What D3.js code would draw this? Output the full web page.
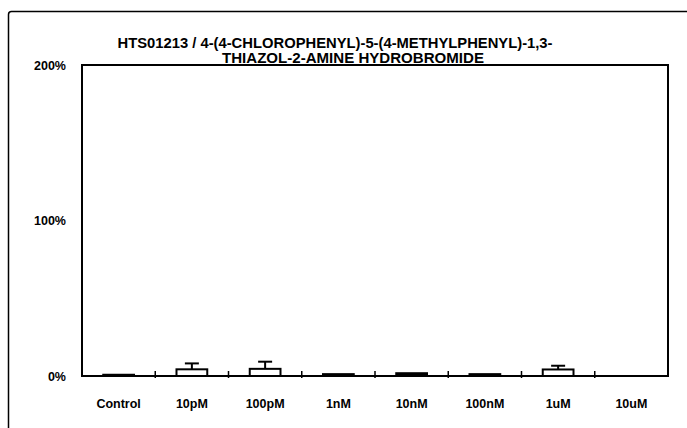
<!DOCTYPE html>
<html><head><meta charset="utf-8">
<script src="https://cdn.jsdelivr.net/npm/d3@7"></script>
<style>body{margin:0;background:#fff}svg{display:block}</style>
</head><body><svg id="c" width="687" height="428"></svg>
<script>
const categories = ["Control","10pM","100pM","1nM","10nM","100nM","1uM","10uM"];
const values = [0.8, 4.3, 4.6, 1.2, 1.8, 1.2, 4.2, 0];
const errors = [0, 3.8, 4.6, 0, 0, 0, 2.4, 0];
const yTicks = [0, 100, 200];
const titleLines = ["HTS01213 / 4-(4-CHLOROPHENYL)-5-(4-METHYLPHENYL)-1,3-", "THIAZOL-2-AMINE HYDROBROMIDE"];

const svg = d3.select("#c");
const font = "'Liberation Sans',Arial,sans-serif";
const m = {l:82, r:668, t:65, b:376};

svg.append("rect").attr("x",8.5).attr("y",11.5).attr("width",700).attr("height",440)
  .attr("rx",3).attr("fill","none").attr("stroke","#000").attr("stroke-width",1.5);

const x = d3.scaleBand().domain(categories).range([m.l,m.r]).paddingInner(0).paddingOuter(0);
const y = d3.scaleLinear().domain([0,200]).range([m.b,m.t]);

// plot frame
svg.append("rect").attr("x",m.l).attr("y",m.t).attr("width",m.r-m.l).attr("height",m.b-m.t)
  .attr("fill","#fff").attr("stroke","#000").attr("stroke-width",2);

// title
svg.append("g").selectAll("text").data(titleLines).join("text")
  .attr("x",(d,i)=> i===0?335:353).attr("y",(d,i)=>48+i*15)
  .attr("text-anchor","middle").attr("font-family",font).attr("font-weight","bold")
  .attr("font-size",14.5).attr("textLength",(d,i)=>i===0?435:262).attr("lengthAdjust","spacingAndGlyphs")
  .attr("fill","#000").text(d=>d);

// y axis labels
const yAxis = d3.axisLeft(y).tickValues(yTicks).tickSize(0).tickPadding(16).tickFormat(d=>d+"%");
const ya = svg.append("g").attr("transform",`translate(${m.l},0)`).call(yAxis);
ya.select(".domain").remove();
ya.selectAll("text").attr("font-family",font).attr("font-weight","bold").attr("font-size",12.5).attr("fill","#000");

// x axis
const xAxis = d3.axisBottom(x).tickSize(0).tickPadding(23);
const xa = svg.append("g").attr("transform",`translate(0,${m.b})`).call(xAxis);
xa.select(".domain").remove();
xa.selectAll("text").attr("font-family",font).attr("font-weight","bold").attr("font-size",12.5).attr("fill","#000");

// category boundary ticks
svg.append("g").selectAll("line").data(categories.slice(1)).join("line")
  .attr("x1",d=>x(d)).attr("x2",d=>x(d)).attr("y1",m.b-5).attr("y2",m.b+2)
  .attr("stroke","#000").attr("stroke-width",1.5);

// bars
const bw = x.bandwidth()*0.42;
const bars = svg.append("g");
bars.selectAll("rect").data(categories.map((c,i)=>({c,v:values[i],e:errors[i]})).filter(d=>d.v>0)).join("rect")
  .attr("x",d=>x(d.c)+x.bandwidth()/2-bw/2).attr("width",bw)
  .attr("y",d=>y(d.v)).attr("height",d=>y(0)-y(d.v))
  .attr("fill",d=>d.v<2?"#000":"#fff").attr("stroke","#000").attr("stroke-width",2);

// error bars
const eg = svg.append("g").attr("stroke","#000").attr("stroke-width",2);
const ed = categories.map((c,i)=>({c,v:values[i],e:errors[i]})).filter(d=>d.e>0);
eg.selectAll("line.v").data(ed).join("line").attr("class","v")
  .attr("x1",d=>x(d.c)+x.bandwidth()/2).attr("x2",d=>x(d.c)+x.bandwidth()/2)
  .attr("y1",d=>y(d.v)).attr("y2",d=>y(d.v+d.e));
eg.selectAll("line.h").data(ed).join("line").attr("class","h")
  .attr("x1",d=>x(d.c)+x.bandwidth()/2-7).attr("x2",d=>x(d.c)+x.bandwidth()/2+7)
  .attr("y1",d=>y(d.v+d.e)).attr("y2",d=>y(d.v+d.e));
</script></body></html>
